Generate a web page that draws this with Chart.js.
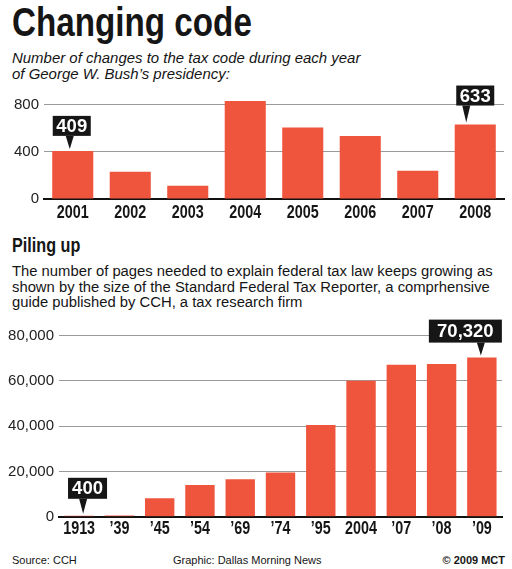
<!DOCTYPE html>
<html>
<head>
<meta charset="utf-8">
<script src="https://cdn.jsdelivr.net/npm/chart.js@4.4.1/dist/chart.umd.min.js"></script>
<style>
  body { margin: 0; background: #fff; width: 512px; height: 569px; position: relative; overflow: hidden;
         font-family: "Liberation Sans", Arial, sans-serif; color: #151515; }
  .t { position: absolute; left: 12px; white-space: nowrap; transform-origin: 0 0; }
  .head { font-weight: bold; }
  .box { position: absolute; left: 0; width: 512px; }
</style>
</head>
<body>
<div class="t head" style="top:2px;font-size:41px;line-height:41px;transform:scaleX(0.81);">Changing code</div>
<div class="t" style="top:50px;font-size:15.5px;line-height:16px;font-style:italic;transform:scaleX(0.965);">Number of changes to the tax code during each year<br>of George W. Bush’s presidency:</div>

<div class="box" style="top:80px;height:145px;"><canvas id="changesChart" width="512" height="145"></canvas></div>

<div class="t head" style="top:235px;font-size:19.5px;line-height:20px;transform:scaleX(0.83);">Piling up</div>
<div class="t" style="top:263px;font-size:15.5px;line-height:15.7px;transform:scaleX(0.955);">The number of pages needed to explain federal tax law keeps growing as<br>shown by the size of the Standard Federal Tax Reporter, a comprhensive<br>guide published by CCH, a tax research firm</div>

<div class="box" style="top:315px;height:225px;"><canvas id="pagesChart" width="512" height="225"></canvas></div>

<div class="t" style="top:554px;font-size:11px;line-height:13px;">Source: CCH</div>
<div class="t" style="top:554px;left:173px;font-size:11px;line-height:13px;">Graphic: Dallas Morning News</div>
<div class="t" style="top:554px;left:auto;right:7px;font-size:11px;line-height:13px;font-weight:bold;">© 2009 MCT</div>

<script>
// Cambios al código fiscal por año
const changeYears = ["2001", "2002", "2003", "2004", "2005", "2006", "2007", "2008"];
const changeCounts = [409, 232, 113, 834, 607, 536, 241, 633];
const changeTicks = [0, 400, 800];

// Páginas del Standard Federal Tax Reporter
const pageYears = ["1913", "’39", "’45", "’54", "’69", "’74", "’95", "2004", "’07", "’08", "’09"];
const pageCounts = [400, 504, 8200, 14000, 16500, 19500, 40500, 60044, 67204, 67506, 70320];
const pageTicks = [0, 20000, 40000, 60000, 80000];

const BAR_RED = "#ef553d";

// etiquetas negras con flecha + años en letra estrecha
const callouts = {
  id: "callouts",
  afterDatasetsDraw(chart, args, opts) {
    const ctx = chart.ctx;
    const meta = chart.getDatasetMeta(0);
    const values = chart.data.datasets[0].data;
    opts.items.forEach(item => {
      const bar = meta.data[item.index];
      const text = values[item.index].toLocaleString("en-US");
      const tipX = bar.x + item.tipDx;
      const tipY = bar.y - 2;
      const bottom = tipY - item.stem;
      const left = bar.x + item.boxDx - item.w / 2;
      ctx.save();
      ctx.fillStyle = "#161616";
      ctx.fillRect(left, bottom - item.h, item.w, item.h);
      ctx.beginPath();
      ctx.moveTo(tipX - 4, bottom);
      ctx.lineTo(tipX + 4, bottom);
      ctx.lineTo(tipX, tipY);
      ctx.closePath();
      ctx.fill();
      ctx.fillStyle = "#fff";
      ctx.font = "bold 18.5px 'Liberation Sans', Arial, sans-serif";
      ctx.textAlign = "center";
      ctx.textBaseline = "middle";
      ctx.fillText(text, left + item.w / 2, bottom - item.h / 2 + 1);
      ctx.restore();
    });
  },
  afterDraw(chart, args, opts) {
    const ctx = chart.ctx;
    const xs = chart.scales.x;
    const y = chart.chartArea.bottom + opts.labelOffset;
    ctx.save();
    ctx.fillStyle = "#151515";
    ctx.font = "bold 17.5px 'Liberation Sans', Arial, sans-serif";
    ctx.textAlign = "center";
    ctx.textBaseline = "alphabetic";
    chart.data.labels.forEach((lab, i) => {
      ctx.save();
      ctx.translate(xs.getPixelForValue(i), y);
      ctx.scale(0.82, 1);
      ctx.fillText(lab, 0, 0);
      ctx.restore();
    });
    ctx.restore();
  }
};

function makeOptions(maxY, tickValues, yWidth, xHeight, padding, items, barPct, labelOffset) {
  return {
    responsive: false,
    animation: false,
    layout: { padding },
    plugins: { legend: { display: false }, tooltip: { enabled: false }, callouts: { items, labelOffset } },
    datasets: { bar: { categoryPercentage: 1, barPercentage: barPct } },
    scales: {
      x: {
        grid: { display: false },
        border: { display: true, color: "#111", width: 2 },
        ticks: { display: false },
        afterFit: s => { s.height = xHeight; }
      },
      y: {
        min: 0,
        max: maxY,
        border: { display: false },
        grid: { color: "#9a9a9a", lineWidth: 1, drawTicks: false, borderDash: [1, 2] },
        ticks: {
          color: "#222",
          padding: 5,
          font: { family: "'Liberation Sans', Arial, sans-serif", size: 15 },
          callback: v => v.toLocaleString("en-US")
        },
        afterBuildTicks: s => { s.ticks = tickValues.map(v => ({ value: v })); },
        afterFit: s => { s.width = yWidth; }
      }
    }
  };
}

new Chart(document.getElementById("changesChart"), {
  type: "bar",
  data: {
    labels: changeYears,
    datasets: [{ label: "Changes", data: changeCounts, backgroundColor: BAR_RED }]
  },
  options: makeOptions(850, changeTicks, 44, 26, { top: 19, right: 8, left: 0, bottom: 0 }, [
    { index: 0, boxDx: -1, tipDx: -3, stem: 13, w: 38, h: 20 },
    { index: 7, boxDx: 0, tipDx: -9, stem: 17, w: 38, h: 20 }
  ], 0.714, 18.5),
  plugins: [callouts]
});

new Chart(document.getElementById("pagesChart"), {
  type: "bar",
  data: {
    labels: pageYears,
    datasets: [{ label: "Pages", data: pageCounts, backgroundColor: BAR_RED }]
  },
  options: makeOptions(80000, pageTicks, 59, 23.3, { top: 20.7, right: 10, left: 0, bottom: 0 }, [
    { index: 0, boxDx: 8.4, tipDx: 4, stem: 15, w: 39, h: 21 },
    { index: 10, boxDx: -16.5, tipDx: -1, stem: 13, w: 73, h: 23 }
  ], 0.73, 17),
  plugins: [callouts]
});
</script>
</body>
</html>
